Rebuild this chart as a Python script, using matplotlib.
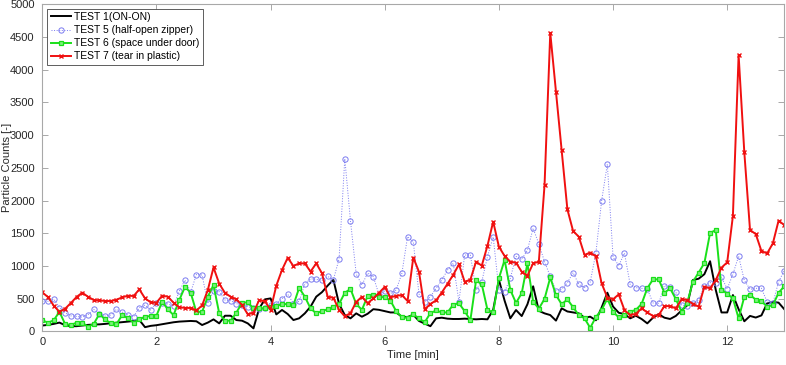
import numpy as np
import matplotlib
matplotlib.use("Agg")
import matplotlib.pyplot as plt

plt.rcParams['font.family'] = ['Liberation Sans', 'DejaVu Sans']

# sampling grid, one reading every 0.1 min
time_min = np.linspace(0, 13, 131)

test1 = [90, 100, 115, 135, 95, 80, 80, 90, 100, 105,
         108, 115, 125, 133, 140, 150, 160, 175, 65, 85,
         95, 110, 125, 140, 150, 155, 160, 155, 98, 135,
         184, 123, 240, 240, 174, 164, 123, 47, 350, 490,
         505, 260, 328, 266, 174, 200, 276, 378, 531, 600,
         700, 790, 420, 250, 200, 276, 225, 270, 340, 330,
         310, 290, 290, 225, 220, 255, 160, 120, 80, 200,
         210, 195, 190, 190, 195, 190, 185, 190, 185, 330,
         790, 470, 200, 327, 235, 415, 690, 315, 276, 250,
         165, 353, 305, 290, 276, 210, 225, 170, 365, 592,
         380, 285, 265, 200, 240, 190, 123, 210, 263, 210,
         190, 237, 320, 400, 786, 806, 875, 1073, 633, 290,
         290, 556, 340, 155, 237, 212, 245, 430, 450, 440,
         340]

test5 = [460, 460, 495, 365, 285, 238, 230, 218, 255, 337,
         270, 235, 250, 337, 296, 250, 225, 362, 403, 327,
         439, 439, 419, 388, 615, 786, 600, 870, 862, 429,
         620, 607, 480, 470, 425, 400, 378, 360, 350, 362,
         403, 420, 500, 571, 425, 460, 725, 805, 796, 780,
         842, 788, 1110, 2640, 1690, 877, 709, 893, 837, 560,
         620, 580, 633, 888, 1449, 1372, 572, 454, 531, 658,
         786, 939, 1041, 454, 1168, 1168, 633, 760, 1143, 1445,
         638, 607, 811, 1147, 1101, 1244, 1575, 1338, 1066, 840,
         622, 645, 744, 900, 718, 670, 755, 1203, 1999, 2556,
         1138, 1005, 1198, 718, 670, 658, 650, 435, 429, 700,
         680, 600, 404, 390, 440, 480, 700, 745, 745, 830,
         650, 875, 1150, 780, 645, 658, 660, 450, 430, 760,
         930]

test6 = [170, 134, 170, 300, 113, 98, 134, 134, 72, 113,
         266, 184, 123, 113, 250, 200, 134, 184, 225, 235,
         240, 454, 337, 250, 480, 680, 592, 295, 301, 531,
         709, 276, 164, 164, 286, 439, 444, 352, 352, 352,
         368, 388, 418, 418, 403, 665, 531, 352, 276, 312,
         337, 378, 420, 590, 650, 420, 330, 540, 560, 530,
         520, 470, 310, 220, 205, 260, 200, 140, 280, 320,
         290, 290, 410, 430, 310, 170, 780, 720, 330, 290,
         812, 1092, 635, 435, 585, 1040, 455, 348, 498, 825,
         556, 415, 490, 370, 250, 200, 55, 220, 330, 500,
         300, 215, 250, 300, 330, 420, 660, 796, 796, 590,
         658, 495, 300, 440, 760, 900, 1045, 1505, 1550, 640,
         575, 505, 200, 530, 560, 485, 460, 380, 400, 590,
         690]

test7 = [597, 525, 395, 300, 347, 434, 526, 592, 531, 480,
         475, 465, 465, 485, 521, 546, 541, 643, 506, 444,
         439, 546, 531, 439, 368, 360, 358, 320, 398, 633,
         978, 730, 590, 530, 490, 405, 262, 286, 480, 460,
         330, 700, 940, 1126, 1000, 1040, 1040, 915, 1040, 890,
         530, 515, 330, 230, 280, 450, 530, 430, 505, 590,
         680, 520, 545, 555, 465, 1130, 912, 337, 420, 475,
         595, 728, 865, 1025, 760, 790, 1066, 1005, 1311, 1678,
         1296, 1153, 1066, 1051, 913, 852, 1041, 1066, 2238, 4565,
         3665, 2770, 1866, 1535, 1448, 1170, 1205, 1147, 735, 518,
         492, 566, 326, 250, 268, 352, 290, 236, 250, 388,
         388, 352, 490, 480, 419, 378, 684, 658, 786, 975,
         1056, 1765, 4226, 2737, 1550, 1489, 1229, 1193, 1346, 1693,
         1627]

labels = ['TEST 1(ON-ON)', 'TEST 5 (half-open zipper)',
          'TEST 6 (space under door)', 'TEST 7 (tear in plastic)']

fig = plt.figure(figsize=(7.86, 3.65), dpi=100)
ax = fig.add_axes([0.0538, 0.092, 0.944, 0.896])

ax.plot(time_min, test1, color='black', lw=1.4, label=labels[0])
ax.plot(time_min, test5, color='#7b7bf0', lw=0.7, ls=':', marker='o',
        ms=3.8, mfc='none', mew=0.7, label=labels[1])
ax.plot(time_min, test6, color='#19e019', lw=1.4, marker='s',
        ms=3.2, mfc='#7ef07e', mew=0.9, label=labels[2])
ax.plot(time_min, test7, color='#f01010', lw=1.4, marker='x',
        ms=3.5, mew=1.0, label=labels[3])

ax.set_xlim(0, 13)
ax.set_ylim(0, 5000)
ax.set_xticks(np.arange(0, 13, 2))
ax.set_yticks(np.arange(0, 5001, 500))
ax.tick_params(direction='in', length=4, width=0.6, color='#9a9a9a',
               labelsize=8, labelcolor='#262626', top=True, right=True)
ax.tick_params(axis='y', pad=5.5)
ax.tick_params(axis='x', pad=4)
for sp in ax.spines.values():
    sp.set_color('#a8a8a8')
    sp.set_linewidth(0.8)

ax.set_xlabel('Time [min]', fontsize=8, color='#262626', labelpad=2)
ax.set_ylabel('Particle Counts [-]', fontsize=8, color='#262626')
ax.yaxis.set_label_coords(-0.041, 0.5)

leg = ax.legend(loc='upper left', bbox_to_anchor=(0.007, 0.986),
                borderaxespad=0, fontsize=7.5, handlelength=2.0,
                handletextpad=0.25, labelspacing=0.3, borderpad=0.3,
                fancybox=False, framealpha=1, edgecolor='#444444')
leg.get_frame().set_linewidth(0.6)

fig.savefig('out.png', dpi=100)
